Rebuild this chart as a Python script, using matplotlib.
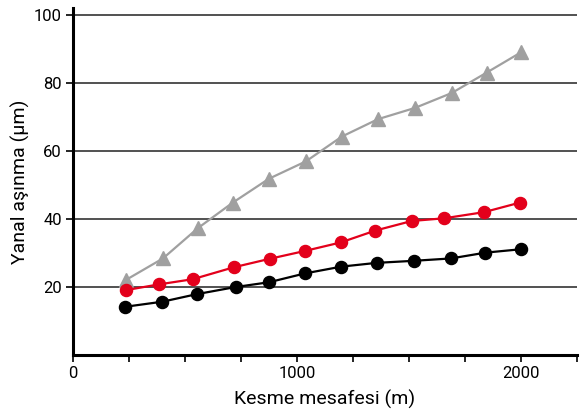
# Lateral wear vs cutting distance
import matplotlib.pyplot as plt
from matplotlib.ticker import MultipleLocator, FixedLocator

x_black = [233, 400, 552, 726, 875, 1036, 1199, 1356, 1521, 1688, 1842, 2000]
y_black = [14.2, 15.7, 17.9, 20.0, 21.4, 24.0, 26.0, 27.1, 27.7, 28.4, 30.1, 31.1]

x_red = [237, 386, 535, 718, 879, 1036, 1196, 1351, 1513, 1659, 1836, 1996]
y_red = [19.1, 20.8, 22.3, 25.8, 28.3, 30.6, 33.1, 36.6, 39.4, 40.2, 42.0, 44.8]

x_gray = [237, 402, 558, 714, 875, 1040, 1201, 1362, 1527, 1692, 1848, 2000]
y_gray = [22.1, 28.4, 37.3, 44.8, 51.8, 56.9, 64.2, 69.3, 72.6, 77.0, 83.0, 88.9]

plt.rcParams['font.family'] = ['Roboto', 'DejaVu Sans']

fig = plt.figure(figsize=(5.88, 4.12), dpi=100)
ax = fig.add_axes([0.124, 0.138, 0.857, 0.843])

for y in [20, 40, 60, 80, 100]:
    ax.axhline(y, color="#222222", lw=1.1, zorder=1)

ax.plot(x_gray, y_gray, color="#a0a0a0", lw=1.6, marker="^", ms=9.5, zorder=3)
ax.plot(x_red, y_red, color="#e3001b", lw=1.6, marker="o", ms=8.7, zorder=3)
ax.plot(x_black, y_black, color="black", lw=1.6, marker="o", ms=8.7, zorder=3)

ax.set_xlim(0, 2250)
ax.set_ylim(0, 102)
ax.xaxis.set_major_locator(MultipleLocator(250))
ax.set_xticklabels([str(int(v)) if v in (0, 1000, 2000) else "" for v in ax.get_xticks()])
ax.yaxis.set_major_locator(FixedLocator([20, 40, 60, 80, 100]))

for s in ["top", "right"]:
    ax.spines[s].set_visible(False)
ax.spines["left"].set_linewidth(2.2)
ax.spines["bottom"].set_linewidth(2.2)
ax.tick_params(direction="out", length=5, width=1.2, labelsize=12, pad=3)

ax.set_xlabel("Kesme mesafesi (m)", fontsize=14, labelpad=6)
ax.set_ylabel("Yanal aşınma (µm)", fontsize=14)
ax.yaxis.set_label_coords(-0.085, 0.5)

fig.savefig("out.png", dpi=100)
